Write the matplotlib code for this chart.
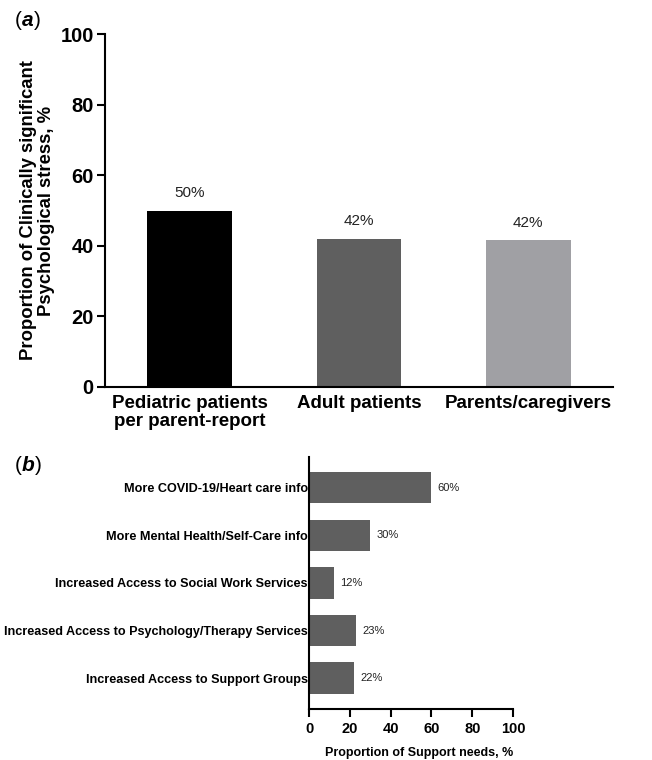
import matplotlib
matplotlib.use("Agg")
import matplotlib.pyplot as plt

plt.rcParams['font.family'] = ['Liberation Sans', 'DejaVu Sans']

# Panel a data
groups = ["Pediatric patients\nper parent-report", "Adult patients", "Parents/caregivers"]
stress = [50, 42, 41.6]
stress_labels = ["50%", "42%", "42%"]
group_colors = ["#000000", "#5f5f5f", "#a0a0a4"]

# Panel b data
needs = ["More COVID-19/Heart care info",
         "More Mental Health/Self-Care info",
         "Increased Access to Social Work Services",
         "Increased Access to Psychology/Therapy Services",
         "Increased Access to Support Groups"]
need_vals = [60, 30, 12, 23, 22]
need_labels = ["60%", "30%", "12%", "23%", "22%"]

fig = plt.figure(figsize=(6.52, 7.6), dpi=100)

# ---- panel a
ax1 = fig.add_axes([0.161, 0.491, 0.779, 0.464])
x = list(range(len(groups)))
ax1.bar(x, stress, width=0.5, color=group_colors)
for xi, v, lab in zip(x, stress, stress_labels):
    ax1.text(xi, v + 3, lab, ha='center', va='bottom', fontsize=11, color='#222222')
ax1.set_xlim(-0.5, 2.5)
ax1.set_ylim(0, 100)
ax1.set_yticks([0, 20, 40, 60, 80, 100])
ax1.set_xticks(x)
ax1.set_xticklabels(groups, fontsize=13.5, fontweight='bold', linespacing=1.05)
ax1.tick_params(axis='x', length=0, pad=6)
ax1.tick_params(axis='y', length=6, width=1.5, labelsize=14.5, pad=2)
for t in ax1.get_yticklabels():
    t.set_fontweight('bold')
ax1.set_ylabel("Proportion of Clinically significant\nPsychological stress, %",
               fontsize=13.3, fontweight='bold', labelpad=4, linespacing=1.05)
for s in ['top', 'right']:
    ax1.spines[s].set_visible(False)
for s in ['left', 'bottom']:
    ax1.spines[s].set_linewidth(1.5)
fig.text(0.022, 0.973, "(", fontsize=15, va='center')
fig.text(0.033, 0.973, "a", fontsize=15, va='center', fontweight='bold', style='italic')
fig.text(0.052, 0.973, ")", fontsize=15, va='center')

# ---- panel b
ax2 = fig.add_axes([0.474, 0.067, 0.313, 0.332])
y = list(range(len(needs)))
ax2.barh(y, need_vals, height=0.66, color="#5f5f5f")
for yi, v, lab in zip(y, need_vals, need_labels):
    ax2.text(v + 3, yi, lab, ha='left', va='center', fontsize=8.0, color='#222222')
ax2.set_ylim(4.65, -0.65)
ax2.set_xlim(0, 100)
ax2.set_yticks(y)
ax2.set_yticklabels(needs, fontsize=9.05, fontweight='bold')
ax2.tick_params(axis='y', length=0, pad=1)
ax2.set_xticks([0, 20, 40, 60, 80, 100])
ax2.tick_params(axis='x', length=6, width=1.5, labelsize=10.5, pad=3)
for t in ax2.get_xticklabels():
    t.set_fontweight('bold')
ax2.set_xlabel("Proportion of Support needs, %", fontsize=9.0, fontweight='bold',
               labelpad=8, loc='right')
for s in ['top', 'right']:
    ax2.spines[s].set_visible(False)
for s in ['left', 'bottom']:
    ax2.spines[s].set_linewidth(1.5)
fig.text(0.022, 0.388, "(", fontsize=15, va='center')
fig.text(0.033, 0.388, "b", fontsize=15, va='center', fontweight='bold', style='italic')
fig.text(0.054, 0.388, ")", fontsize=15, va='center')

fig.savefig("out.png", dpi=100)
